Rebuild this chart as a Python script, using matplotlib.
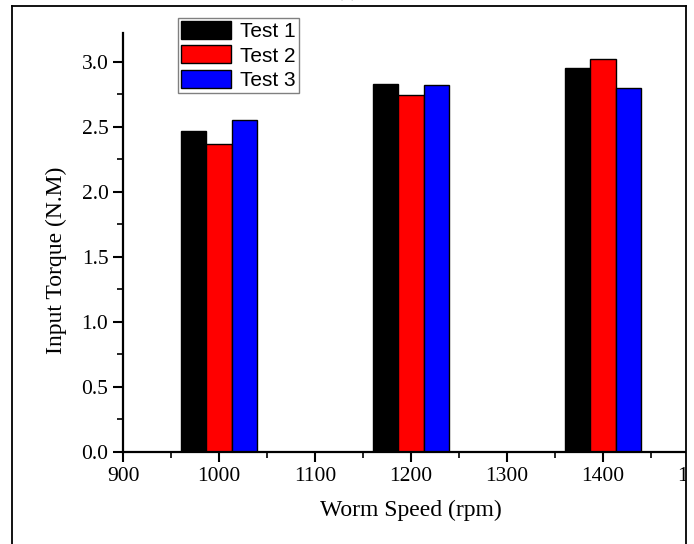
import matplotlib
matplotlib.use('Agg')
import matplotlib.pyplot as plt
import numpy as np
from matplotlib.ticker import MultipleLocator
from matplotlib.patches import Rectangle
from matplotlib.lines import Line2D

speeds = [1000, 1200, 1400]
test1 = [2.47, 2.83, 2.95]
test2 = [2.37, 2.74, 3.02]
test3 = [2.55, 2.82, 2.80]
labels = ['Test 1', 'Test 2', 'Test 3']
colors = ['black', 'red', 'blue']

W, H = 694, 544
fig = plt.figure(figsize=(W / 100, H / 100), dpi=100)
ax = fig.add_axes([123 / W, 1 - 452 / H, (699 - 123) / W, (452 - 33) / H])

serif = 'Liberation Serif'
sans = 'Liberation Sans'

width = 80 / 3
x = np.array(speeds, dtype=float)
for i, (vals, lab, c) in enumerate(zip([test1, test2, test3], labels, colors)):
    ax.bar(x + (i - 1) * width, vals, width, color=c, edgecolor='black',
           linewidth=1, label=lab)

ax.set_xlim(900, 1500)
ax.set_ylim(0, 3.22)
ax.xaxis.set_major_locator(MultipleLocator(100))
ax.xaxis.set_minor_locator(MultipleLocator(50))
ax.yaxis.set_major_locator(MultipleLocator(0.5))
ax.yaxis.set_minor_locator(MultipleLocator(0.25))
ax.yaxis.set_major_formatter(plt.FuncFormatter(lambda v, p: f"{v:.1f}"))

for s in ['top', 'right']:
    ax.spines[s].set_visible(False)
for s in ['left', 'bottom']:
    ax.spines[s].set_linewidth(1.6)

ax.tick_params(which='major', direction='out', length=7, width=1.5, labelsize=15.5)
ax.tick_params(which='minor', direction='out', length=4, width=1.2)
for t in ax.get_xticklabels() + ax.get_yticklabels():
    t.set_fontfamily(serif)

ax.set_xlabel('Worm Speed (rpm)', fontsize=17, fontfamily=serif, labelpad=10)
ax.set_ylabel('Input Torque (N.M)', fontsize=17, fontfamily=serif)
ax.yaxis.set_label_coords(-0.097, 0.458)

leg = ax.legend(loc='upper left', bbox_to_anchor=(178 / W, 1 - 18 / H),
                bbox_transform=fig.transFigure, fancybox=False, framealpha=1,
                edgecolor='gray', prop={'family': sans, 'size': 15},
                handlelength=2.4, handleheight=0.95, handletextpad=0.45,
                labelspacing=0.2, borderpad=0.15, borderaxespad=0)
leg.get_frame().set_linewidth(1)

# cropped title above the frame
fig.text(347 / W, 1 - 1 / H, '(a)', ha='center', va='bottom',
         fontsize=15, fontfamily=serif)

# white band on the right where the image was cut, and the outer frame
fig.add_artist(Rectangle((686 / W, 0), 1, 1, transform=fig.transFigure,
                         facecolor='white', edgecolor='none', zorder=10))
frame_kw = dict(transform=fig.transFigure, color='black', linewidth=1.3, zorder=11)
fig.add_artist(Line2D([12 / W, 686 / W], [1 - 6 / H, 1 - 6 / H], **frame_kw))
fig.add_artist(Line2D([12 / W, 12 / W], [0, 1 - 6 / H], **frame_kw))
fig.add_artist(Line2D([686 / W, 686 / W], [0, 1 - 6 / H], **frame_kw))

fig.savefig('out.png', dpi=100)
